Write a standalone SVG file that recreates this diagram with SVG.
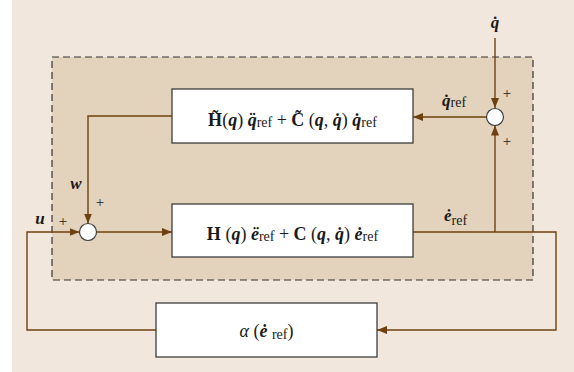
<svg xmlns="http://www.w3.org/2000/svg" width="574" height="372" viewBox="0 0 574 372">
<defs>
<marker id="ah" viewBox="0 0 10 10" refX="10" refY="5" markerWidth="10" markerHeight="10" markerUnits="userSpaceOnUse" orient="auto">
<path d="M0,1 L10,5 L0,9 Z" fill="#6e4210"/>
</marker>
<style>
.c{fill:none;stroke:#6e4210;stroke-width:1.4}
.box{fill:#fff;stroke:#3c3c3c;stroke-width:1.3}
.sum{fill:#fff;stroke:#3c3c3c;stroke-width:1.2}
.t{font-family:"Liberation Serif",serif;font-size:18px;fill:#1a1a1a}
.l{font-family:"Liberation Serif",serif;font-size:17px;fill:#1a1a1a}
.b{font-weight:bold}
.bi{font-weight:bold;font-style:italic}
.i{font-style:italic}
.s{font-size:14px}
.p{font-family:"Liberation Serif",serif;font-size:15px;fill:#1a1a1a}
</style>
</defs>
<rect x="12" y="0" width="562" height="372" fill="#f2e7dd"/>
<rect x="52" y="57" width="481" height="223" fill="#e3d3bd" stroke="#333" stroke-width="1.2" stroke-dasharray="7,4"/>
<g id="connectors">
<path class="c" d="M495,38 V108" marker-end="url(#ah)"/>
<path class="c" d="M486.5,117 H413" marker-end="url(#ah)"/>
<path class="c" d="M172,116 H88 V223.5" marker-end="url(#ah)"/>
<path class="c" d="M156,330 H27 V232 H79.5" marker-end="url(#ah)"/>
<path class="c" d="M96.5,232 H172" marker-end="url(#ah)"/>
<path class="c" d="M413,232 H556 V330 H377" marker-end="url(#ah)"/>
<path class="c" d="M495,232 V125.5" marker-end="url(#ah)"/>
</g>
<g id="box-top">
<rect class="box" x="172" y="89" width="241" height="54"/>
<text class="t" x="292.5" y="126" text-anchor="middle"><tspan class="b">H̃</tspan>(<tspan class="bi">q</tspan>) <tspan class="bi">q̈</tspan><tspan class="s" dy="1">ref</tspan><tspan dy="-1"> + </tspan><tspan class="b">C̃</tspan> (<tspan class="bi">q</tspan>, <tspan class="bi">q̇</tspan>) <tspan class="bi">q̇</tspan><tspan class="s" dy="1">ref</tspan></text>
</g>
<g id="box-mid">
<rect class="box" x="172" y="204" width="241" height="53"/>
<text class="t" x="292.5" y="240" text-anchor="middle"><tspan class="b">H</tspan> (<tspan class="bi">q</tspan>) <tspan class="bi">ë</tspan><tspan class="s" dy="1">ref</tspan><tspan dy="-1"> + </tspan><tspan class="b">C</tspan> (<tspan class="bi">q</tspan>, <tspan class="bi">q̇</tspan>) <tspan class="bi">ė</tspan><tspan class="s" dy="1">ref</tspan></text>
</g>
<g id="box-alpha">
<rect class="box" x="156" y="303" width="221" height="54"/>
<text class="t" x="266.5" y="337" text-anchor="middle"><tspan class="i">α</tspan> (<tspan class="bi">ė</tspan> <tspan class="s" dy="2">ref</tspan><tspan dy="-2">)</tspan></text>
</g>
<g id="sum-left">
<circle class="sum" cx="88" cy="232" r="8.5"/>
</g>
<g id="sum-right">
<circle class="sum" cx="495" cy="117" r="8.5"/>
</g>
<g id="labels">
<text class="l bi" x="495" y="28" text-anchor="middle">q̇</text>
<text class="l" x="442" y="106"><tspan class="bi">q̇</tspan><tspan class="s" dy="1">ref</tspan></text>
<text class="l" x="444" y="221"><tspan class="bi">ė</tspan><tspan class="s" dy="4">ref</tspan></text>
<text class="l bi" x="76" y="189" text-anchor="middle">w</text>
<text class="l bi" x="40" y="224" text-anchor="middle">u</text>
<text class="p" x="507" y="98" text-anchor="middle">+</text>
<text class="p" x="507" y="146" text-anchor="middle">+</text>
<text class="p" x="100" y="207" text-anchor="middle">+</text>
<text class="p" x="63" y="226" text-anchor="middle">+</text>
</g>
</svg>
